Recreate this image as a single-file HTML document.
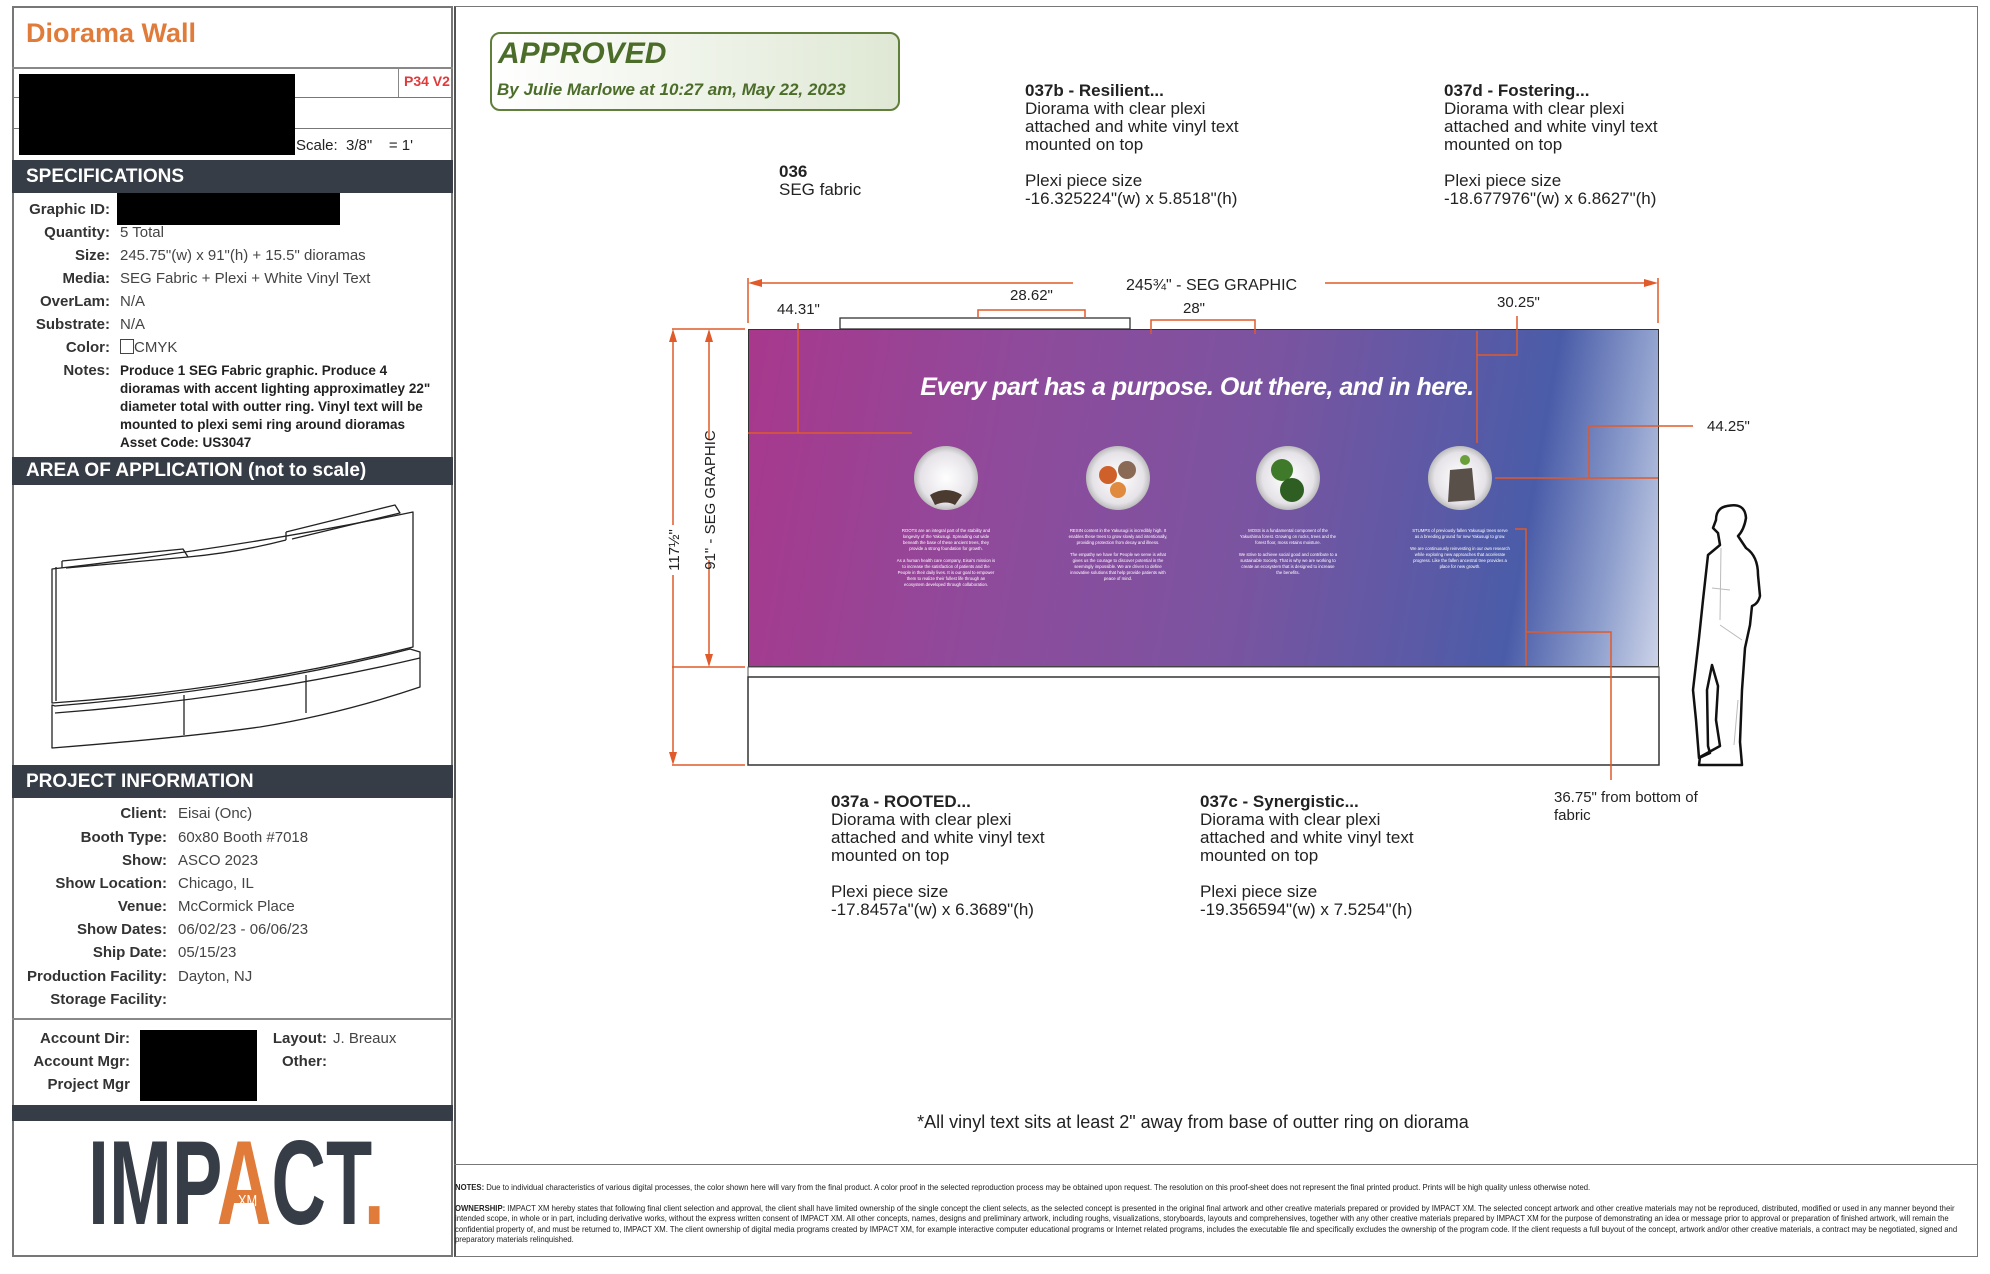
<!DOCTYPE html>
<html><head><meta charset="utf-8">
<style>
*{margin:0;padding:0;box-sizing:border-box}
body{width:1990px;height:1274px;background:#fff;position:relative;overflow:hidden;font-family:"Liberation Sans",sans-serif;color:#222}
.a{position:absolute;white-space:nowrap}
.hdr{position:absolute;left:12px;width:441px;background:#363d47;color:#fff;font-weight:bold;font-size:19px;padding-left:14px}
.lbl{position:absolute;text-align:right;font-weight:bold;font-size:15px;color:#333}
.val{position:absolute;font-size:15px;color:#444}
.blk{position:absolute;background:#000}
.t{font-size:17px;line-height:18px;color:#222}
.sm{font-size:4.3px;line-height:6px;color:#fff;text-align:center;position:absolute;width:100px;white-space:normal}
</style></head><body>

<!-- left panel frame -->
<div class="a" style="left:12px;top:6px;width:441px;height:1251px;border:2px solid #777"></div>
<div class="a" style="left:26px;top:18px;font-size:27px;font-weight:bold;color:#e07b39">Diorama Wall</div>
<div class="a" style="left:12px;top:67px;width:441px;border-top:2px solid #888"></div>
<div class="a" style="left:12px;top:97px;width:441px;border-top:1px solid #777"></div>
<div class="a" style="left:12px;top:128px;width:441px;border-top:1px solid #777"></div>
<div class="a" style="left:398px;top:68px;height:29px;border-left:1px solid #888"></div>
<div class="a" style="left:404px;top:73px;font-size:14px;font-weight:bold;color:#e03a3a">P34 V2</div>
<div class="blk" style="left:19px;top:74px;width:276px;height:81px"></div>
<div class="a" style="left:296px;top:137px;font-size:15px">Scale:&nbsp; 3/8"&nbsp;&nbsp;&nbsp; = 1'</div>

<div class="hdr" style="top:160px;height:33px;line-height:33px">SPECIFICATIONS</div>
<div class="lbl" style="left:12px;width:98px;top:201px">Graphic ID:</div>
<div class="blk" style="left:117px;top:193px;width:223px;height:32px"></div>
<div class="lbl" style="left:12px;width:98px;top:224px">Quantity:</div><div class="val" style="left:120px;top:224px">5 Total</div>
<div class="lbl" style="left:12px;width:98px;top:247px">Size:</div><div class="val" style="left:120px;top:247px">245.75"(w) x 91"(h) + 15.5" dioramas</div>
<div class="lbl" style="left:12px;width:98px;top:270px">Media:</div><div class="val" style="left:120px;top:270px">SEG Fabric + Plexi + White Vinyl Text</div>
<div class="lbl" style="left:12px;width:98px;top:293px">OverLam:</div><div class="val" style="left:120px;top:293px">N/A</div>
<div class="lbl" style="left:12px;width:98px;top:316px">Substrate:</div><div class="val" style="left:120px;top:316px">N/A</div>
<div class="lbl" style="left:12px;width:98px;top:339px">Color:</div><div class="val" style="left:120px;top:339px"><span style="display:inline-block;width:14px;height:15px;border:1px solid #444;vertical-align:-2px"></span>CMYK</div>
<div class="lbl" style="left:12px;width:98px;top:362px">Notes:</div>
<div class="a" style="left:120px;top:362px;font-size:13.5px;font-weight:bold;line-height:18px;color:#222">Produce 1 SEG Fabric graphic. Produce 4<br>dioramas with accent lighting approximatley 22"<br>diameter total with outter ring. Vinyl text will be<br>mounted to plexi semi ring around dioramas<br>Asset Code: US3047</div>

<div class="hdr" style="top:457px;height:28px;line-height:28px">AREA OF APPLICATION (not to scale)</div>
<svg class="a" style="left:0;top:0" width="460" height="770">
<g fill="none" stroke="#222" stroke-width="1.3" stroke-linejoin="round">
<path d="M52 569 Q240 548 413 512 L413 647 Q240 690 52 703 Z"/>
<path d="M56 567 L56 701"/>
<path d="M62 561 L62 568 M62 561 L183 549 L188 557 L66 568"/>
<path d="M286 532 L286 540 M286 532 L395 505 L400 513 L292 539"/>
<path d="M188 557 Q240 552 286 540"/>
<path d="M52 705 L52 748 Q180 738 260 727 Q340 714 420 687 L420 652 L410 649 Q250 690 55 706 Z"/>
<path d="M55 713 Q250 698 420 658"/>
<path d="M184 695 L184 735 M306 675 L306 713"/>
</g></svg>

<div class="hdr" style="top:765px;height:33px;line-height:33px">PROJECT INFORMATION</div>
<div class="lbl" style="left:12px;width:155px;top:805px">Client:</div><div class="val" style="left:178px;top:805px">Eisai (Onc)</div>
<div class="lbl" style="left:12px;width:155px;top:829px">Booth Type:</div><div class="val" style="left:178px;top:829px">60x80 Booth #7018</div>
<div class="lbl" style="left:12px;width:155px;top:852px">Show:</div><div class="val" style="left:178px;top:852px">ASCO 2023</div>
<div class="lbl" style="left:12px;width:155px;top:875px">Show Location:</div><div class="val" style="left:178px;top:875px">Chicago, IL</div>
<div class="lbl" style="left:12px;width:155px;top:898px">Venue:</div><div class="val" style="left:178px;top:898px">McCormick Place</div>
<div class="lbl" style="left:12px;width:155px;top:921px">Show Dates:</div><div class="val" style="left:178px;top:921px">06/02/23 - 06/06/23</div>
<div class="lbl" style="left:12px;width:155px;top:944px">Ship Date:</div><div class="val" style="left:178px;top:944px">05/15/23</div>
<div class="lbl" style="left:12px;width:155px;top:968px">Production Facility:</div><div class="val" style="left:178px;top:968px">Dayton, NJ</div>
<div class="lbl" style="left:12px;width:155px;top:991px">Storage Facility:</div>
<div class="a" style="left:12px;top:1018px;width:441px;border-top:2px solid #888"></div>
<div class="lbl" style="left:12px;width:118px;top:1030px">Account Dir:</div>
<div class="lbl" style="left:12px;width:118px;top:1053px">Account Mgr:</div>
<div class="lbl" style="left:12px;width:118px;top:1076px">Project Mgr</div>
<div class="blk" style="left:140px;top:1030px;width:117px;height:71px"></div>
<div class="lbl" style="left:230px;width:97px;top:1030px">Layout:</div><div class="val" style="left:333px;top:1030px">J. Breaux</div>
<div class="lbl" style="left:230px;width:97px;top:1053px">Other:</div>
<div class="a" style="left:12px;top:1105px;width:441px;height:16px;background:#363d47"></div>
<div class="a" style="left:88px;top:1123px;font-size:120px;line-height:120px;font-weight:bold;color:#363d47;transform:scaleX(0.63);transform-origin:left top">IMP<span style="color:#e07b39">A</span>CT<span style="color:#e07b39">.</span></div>
<div class="a" style="left:238px;top:1193px;font-size:16px;color:#fff;transform:scaleX(0.8);transform-origin:left top">XM</div>

<!-- main frame -->
<div class="a" style="left:454px;top:6px;width:1524px;height:1251px;border:1px solid #777;border-left:2px solid #555"></div>
<div class="a" style="left:454px;top:1164px;width:1524px;border-top:1px solid #777"></div>

<!-- approved -->
<div class="a" style="left:490px;top:32px;width:410px;height:79px;border:2px solid #5f7f3b;border-radius:10px;background:linear-gradient(90deg,#fff,#dfe8d4)"></div>
<div class="a" style="left:498px;top:37px;font-size:30px;font-weight:bold;font-style:italic;color:#4c6d2a">APPROVED</div>
<div class="a" style="left:497px;top:80px;font-size:17px;font-weight:bold;font-style:italic;color:#4c6d2a">By Julie Marlowe at 10:27 am, May 22, 2023</div>

<div class="a t" style="left:1025px;top:82px"><b>037b - Resilient...</b><br>Diorama with clear plexi<br>attached and white vinyl text<br>mounted on top<br><br>Plexi piece size<br>-16.325224"(w) x 5.8518"(h)</div>
<div class="a t" style="left:1444px;top:82px"><b>037d - Fostering...</b><br>Diorama with clear plexi<br>attached and white vinyl text<br>mounted on top<br><br>Plexi piece size<br>-18.677976"(w) x 6.8627"(h)</div>
<div class="a t" style="left:779px;top:163px"><b>036</b><br>SEG fabric</div>
<div class="a t" style="left:831px;top:793px"><b>037a - ROOTED...</b><br>Diorama with clear plexi<br>attached and white vinyl text<br>mounted on top<br><br>Plexi piece size<br>-17.8457a"(w) x 6.3689"(h)</div>
<div class="a t" style="left:1200px;top:793px"><b>037c - Synergistic...</b><br>Diorama with clear plexi<br>attached and white vinyl text<br>mounted on top<br><br>Plexi piece size<br>-19.356594"(w) x 7.5254"(h)</div>
<div class="a t" style="left:1554px;top:789px;font-size:15px">36.75" from bottom of<br>fabric</div>
<div class="a" style="left:0;width:2386px;top:1112px;text-align:center;font-size:18px">*All vinyl text sits at least 2" away from base of outter ring on diorama</div>

<!-- panel -->
<div class="a" style="left:748px;top:329px;width:911px;height:338px;border:1.5px solid #333;background:linear-gradient(100deg,#a8388c 0%,#8e4b9c 30%,#7a54a0 55%,#5a5aa6 75%,#4a5ca8 84%,#8c9dcc 93%,#ccd3e8 100%)"></div>
<div class="a" style="left:0;width:2394px;top:373px;text-align:center;font-size:25px;font-weight:bold;font-style:italic;color:#fff;letter-spacing:-0.5px">Every part has a purpose. Out there, and in here.</div>
<svg class="a" style="left:0;top:0" width="1990" height="1274">
<defs><radialGradient id="g"><stop offset="0" stop-color="#fff"/><stop offset="0.8" stop-color="#e6e3e8"/><stop offset="1" stop-color="#bbb"/></radialGradient></defs>
<g>
<circle cx="946" cy="478" r="32" fill="url(#g)"/><path d="M930 495 Q946 485 962 495 L955 505 Q946 500 935 505Z" fill="#4a3a30"/>
<circle cx="1118" cy="478" r="32" fill="url(#g)"/><circle cx="1108" cy="475" r="9" fill="#d0602a"/><circle cx="1127" cy="470" r="9" fill="#8a6a55"/><circle cx="1118" cy="490" r="8" fill="#e08a40"/>
<circle cx="1288" cy="478" r="32" fill="url(#g)"/><circle cx="1282" cy="470" r="11" fill="#3e7a2a"/><circle cx="1292" cy="490" r="12" fill="#2e5e22"/>
<circle cx="1460" cy="478" r="32" fill="url(#g)"/><path d="M1450 470 L1472 468 L1475 500 L1448 502Z" fill="#5a504a"/><circle cx="1465" cy="460" r="5" fill="#6aa03a"/>
</g>
<!-- base -->
<rect x="748" y="667" width="911" height="10" fill="#fff" stroke="#555" stroke-width="1"/>
<rect x="748" y="677" width="911" height="88" fill="#fff" stroke="#333" stroke-width="1.5"/>
<rect x="840" y="318" width="290" height="11" fill="#fff" stroke="#333" stroke-width="1.3"/>
<g stroke="#e05a2a" stroke-width="1.5" fill="none">
<path d="M752 283 L1073 283 M1325 283 L1654 283"/>
<path d="M748 278 L748 323 M1658 278 L1658 323"/>
<path d="M798 323 L798 433 M748 433 L912 433"/>
<path d="M978 318 L978 310 L1085 310 L1085 318"/>
<path d="M1151 334 L1151 320 L1255 320 L1255 334"/>
<path d="M1517 316 L1517 355 L1477 355 M1477 331 L1477 443"/>
<path d="M1495 478 L1658 478 M1589 478 L1589 426 L1693 426"/>
<path d="M1515 529 L1526 529 L1526 666 M1526 632 L1611 632 L1611 780"/>
<path d="M672 329 L745 329 M672 667 L745 667 M672 765 L745 765"/>
<path d="M709 333 L709 440 M709 560 L709 663"/>
<path d="M673 334 L673 525 M673 575 L673 761"/>
</g>
<g fill="#e05a2a">
<path d="M748 283 L762 279 L762 287Z"/><path d="M1658 283 L1644 279 L1644 287Z"/>
<path d="M709 329 L705 342 L713 342Z"/><path d="M709 667 L705 654 L713 654Z"/>
<path d="M673 329 L669 342 L677 342Z"/><path d="M673 765 L669 752 L677 752Z"/>
</g>
<text x="1126" y="290" font-family="Liberation Sans" font-size="16" fill="#222">245¾" - SEG GRAPHIC</text>
<text x="777" y="314" font-family="Liberation Sans" font-size="15" fill="#222">44.31"</text>
<text x="1010" y="300" font-family="Liberation Sans" font-size="15" fill="#222">28.62"</text>
<text x="1183" y="313" font-family="Liberation Sans" font-size="15" fill="#222">28"</text>
<text x="1497" y="307" font-family="Liberation Sans" font-size="15" fill="#222">30.25"</text>
<text x="1707" y="431" font-family="Liberation Sans" font-size="15" fill="#222">44.25"</text>
<text transform="translate(715,500) rotate(-90)" text-anchor="middle" font-family="Liberation Sans" font-size="15" fill="#222">91" - SEG GRAPHIC</text>
<text transform="translate(679,550) rotate(-90)" text-anchor="middle" font-family="Liberation Sans" font-size="15" fill="#222">117½"</text>
<!-- person -->
<path d="M1727 506 Q1745 502 1746 518 Q1744 530 1738 536 L1746 548 Q1758 556 1758 575 L1760 596 Q1758 604 1752 606 L1750 625 L1745 648 L1742 690 L1740 742 L1742 765 L1699 765 L1700 757 L1720 746 L1716 720 L1718 686 L1712 665 L1707 690 L1708 746 L1710 753 L1699 758 L1696 720 L1693 690 L1699 638 L1703 600 L1708 555 L1720 545 L1718 533 L1713 528 L1716 520 Q1716 508 1727 506Z" fill="#fff" stroke="#111" stroke-width="2.5" stroke-linejoin="round"/>
<path d="M1721 548 L1720 620 M1712 588 L1730 590 M1720 625 L1742 640 M1738 700 L1734 745" stroke="#bbb" stroke-width="1" fill="none"/>
</svg>

<div class="sm" style="left:896px;top:528px">ROOTS are an integral part of the stability and longevity of the Yakusugi. Spreading out wide beneath the base of these ancient trees, they provide a strong foundation for growth.<br><br>As a human health care company, Eisai's mission is to increase the satisfaction of patients and the People in their daily lives. It is our goal to empower them to realize their fullest life through an ecosystem developed through collaboration.</div>
<div class="sm" style="left:1068px;top:528px">RESIN content in the Yakusugi is incredibly high. It enables these trees to grow slowly and intentionally, providing protection from decay and illness.<br><br>The empathy we have for People we serve is what gives us the courage to discover potential in the seemingly impossible. We are driven to define innovative solutions that help provide patients with peace of mind.</div>
<div class="sm" style="left:1238px;top:528px">MOSS is a fundamental component of the Yakushima forest. Growing on rocks, trees and the forest floor, moss retains moisture.<br><br>We strive to achieve social good and contribute to a sustainable Society. That is why we are working to create an ecosystem that is designed to increase the benefits.</div>
<div class="sm" style="left:1410px;top:528px">STUMPS of previously fallen Yakusugi trees serve as a breeding ground for new Yakusugi to grow.<br><br>We are continuously reinvesting in our own research while exploring new approaches that accelerate progress. Like the fallen ancestral tree provides a place for new growth.</div>

<!-- notes -->
<div class="a" style="left:455px;top:1182px;font-size:8.3px;color:#222;transform:scaleX(0.93);transform-origin:left"><b>NOTES:</b> Due to individual characteristics of various digital processes, the color shown here will vary from the final product. A color proof in the selected reproduction process may be obtained upon request. The resolution on this proof-sheet does not represent the final printed product. Prints will be high quality unless otherwise noted.</div>
<div class="a" style="left:455px;top:1203px;font-size:8.3px;line-height:10.4px;color:#222;white-space:normal;width:1640px;transform:scaleX(0.93);transform-origin:left top"><b>OWNERSHIP:</b> IMPACT XM hereby states that following final client selection and approval, the client shall have limited ownership of the single concept the client selects, as the selected concept is presented in the original final artwork and other creative materials prepared or provided by IMPACT XM. The selected concept artwork and other creative materials may not be reproduced, distributed, modified or used in any manner beyond their intended scope, in whole or in part, including derivative works, without the express written consent of IMPACT XM. All other concepts, names, designs and preliminary artwork, including roughs, visualizations, storyboards, layouts and comprehensives, together with any other creative materials prepared by IMPACT XM for the purpose of demonstrating an idea or message prior to approval or preparation of finished artwork, will remain the confidential property of, and must be returned to, IMPACT XM. The client ownership of digital media programs created by IMPACT XM, for example interactive computer educational programs or Internet related programs, includes the executable file and specifically excludes the ownership of the program code. If the client requests a full buyout of the concept, artwork and/or other creative materials, a contract may be negotiated, signed and preparatory materials relinquished.</div>
</body></html>
